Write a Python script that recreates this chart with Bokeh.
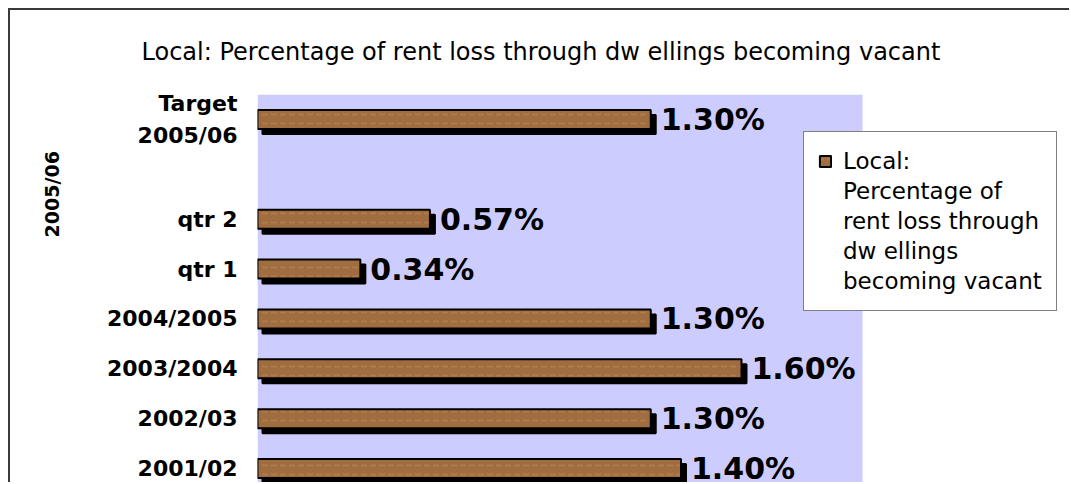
import math
from bokeh.plotting import figure
from bokeh.models import (Range1d, FixedTicker, Legend, LegendItem, ColumnDataSource,
                          LinearAxis, BoxAnnotation)
from bokeh.transform import dodge
from bokeh.embed import file_html
from bokeh.resources import INLINE
from bokeh.core.properties import value

# ---- data ----
categories = ["2001/02", "2002/03", "2003/2004", "2004/2005", "qtr 1", "qtr 2", "Target\n2005/06"]
positions = [1, 2, 3, 4, 5, 6, 8]
values = [1.40, 1.30, 1.60, 1.30, 0.34, 0.57, 1.30]
value_labels = ["1.40%", "1.30%", "1.60%", "1.30%", "0.34%", "0.57%", "1.30%"]
group_label = "2005/06"
group_center = 6.5
title_text = "Local: Percentage of rent loss through  dw ellings becoming vacant"
legend_lines = ["Local:", "Percentage of", "rent loss through", "dw ellings", "becoming vacant"]
x_max_plot = 2.0

FONT = "DejaVu Sans"
BAR_FILL = "#a06d40"
PLOT_BG = "#ccccff"

src = ColumnDataSource(dict(pos=positions, val=values, lab=value_labels))

# canvas starts at page (10, 10); frame: left 257, top 93, right = canvas right, bottom 484
p = figure(width=1061, height=474, output_backend="svg", toolbar_location=None,
           x_range=Range1d(0, (1071 - 257) / 302.5), y_range=Range1d(8 - (484 - 118) / 50, 8.5),
           min_border_left=247, min_border_right=0, min_border_top=83, min_border_bottom=0)
p.styles = {"margin-left": "8px", "margin-top": "8px",
            "border-left": "2px solid #3a3a3a", "border-top": "2px solid #3a3a3a"}
p.background_fill_color = "white"
p.border_fill_color = "white"
p.outline_line_color = None
p.xgrid.visible = False
p.ygrid.visible = False
p.xaxis.visible = False

# plot area background (lavender) up to the x-axis maximum
p.add_layout(BoxAnnotation(left=0, right=x_max_plot, fill_color=PLOT_BG, fill_alpha=1.0,
                           line_color=None, level="underlay"))

# title
p.title.text = title_text
p.title.align = "left"
p.title.offset = -116
p.title.vertical_align = "top"
p.title.standoff = 54
p.title.text_font = FONT
p.title.text_font_size = "24px"
p.title.text_font_style = "normal"
p.title.text_color = "black"

# shadow
p.hbar(y=dodge("pos", -0.1), left=0.0165, right=dodge("val", 0.0165), height=0.38,
       source=src, fill_color="black", line_color="black", line_width=2)
# bars
bars = p.hbar(y="pos", left=0, right="val", height=0.38, source=src,
              fill_color=BAR_FILL, line_color="black", line_width=2,
              hatch_pattern="horizontal_dash", hatch_color="#c08c58", hatch_alpha=0.45,
              hatch_scale=9, hatch_weight=2)
# value labels
p.text(x="val", y="pos", text="lab", source=src, x_offset=10, y_offset=0,
       text_align="left", text_baseline="middle", text_font=value(FONT),
       text_font_style="bold", text_font_size="30px", text_color="black")

# y axis (categories)
yax = p.yaxis[0]
yax.ticker = FixedTicker(ticks=positions)
yax.major_label_overrides = {pos: cat for pos, cat in zip(positions, categories)}
yax.axis_line_color = None
yax.major_tick_line_color = None
yax.minor_tick_line_color = None
yax.major_tick_out = 0
yax.major_label_standoff = 20
yax.major_label_text_font = FONT
yax.major_label_text_font_style = "bold"
yax.major_label_text_font_size = "22px"
yax.major_label_text_color = "black"
yax.major_label_text_line_height = 1.25

# group axis ("2005/06")
gax = LinearAxis(ticker=FixedTicker(ticks=[group_center]),
                 major_label_overrides={group_center: group_label},
                 major_label_orientation="vertical")
gax.axis_line_color = None
gax.major_tick_line_color = None
gax.minor_tick_line_color = None
gax.major_tick_out = 0
gax.major_label_standoff = 41
gax.major_label_text_font = FONT
gax.major_label_text_font_style = "bold"
gax.major_label_text_font_size = "19px"
gax.major_label_text_color = "black"
p.add_layout(gax, "left")

# legend
dummy = p.hbar(y=[], left=[], right=[], height=0.1, fill_alpha=0, line_alpha=0)
items = [LegendItem(label=legend_lines[0], renderers=[bars])]
items += [LegendItem(label=t, renderers=[dummy]) for t in legend_lines[1:]]
legend = Legend(items=items, location=(546, 173), padding=14, spacing=0, margin=0,
                glyph_width=14, glyph_height=14, label_height=30, label_standoff=11,
                label_text_font=FONT, label_text_font_size="23px", label_text_color="black",
                border_line_color="black", border_line_width=1, background_fill_color="white",
                background_fill_alpha=1.0)
p.add_layout(legend)

open("out.html", "w").write(file_html(p, INLINE))
